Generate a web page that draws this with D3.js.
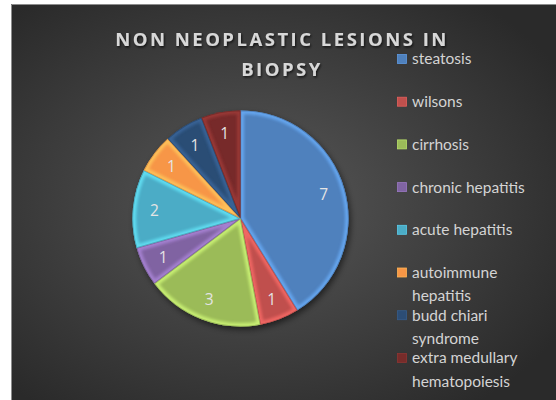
<!DOCTYPE html>
<html><head><meta charset="utf-8">
<script src="https://cdn.jsdelivr.net/npm/d3@7"></script>
<style>
html,body{margin:0;padding:0;background:#fff;}
svg{display:block;}
</style></head>
<body><svg id="chart" width="556" height="400"></svg>
<script>
const categories = ["steatosis","wilsons","cirrhosis","chronic hepatitis","acute hepatitis","autoimmune hepatitis","budd chiari syndrome","extra medullary hematopoiesis"];
const values = [7,1,3,1,2,1,1,1];
const colors = ["#4F81BD","#C0504D","#9BBB59","#8064A2","#4BACC6","#F79646","#2C4D75","#772C2A"];
const titleLines = ["NON NEOPLASTIC LESIONS IN","BIOPSY"];

const svg = d3.select("#chart");
const W = 556, H = 400;
const defs = svg.append("defs");

const bg = defs.append("radialGradient").attr("id","bg").attr("cx","45%").attr("cy","50%").attr("r","65%");
bg.append("stop").attr("offset","0%").attr("stop-color","#585858");
bg.append("stop").attr("offset","100%").attr("stop-color","#2a2a2a");

const blur = defs.append("filter").attr("id","blur").attr("x","-20%").attr("y","-20%").attr("width","140%").attr("height","140%");
blur.append("feGaussianBlur").attr("stdDeviation",1.6);

const shadow = defs.append("filter").attr("id","shadow").attr("x","-20%").attr("y","-20%").attr("width","140%").attr("height","140%");
shadow.append("feDropShadow").attr("dx",2).attr("dy",3).attr("stdDeviation",3).attr("flood-color","#000").attr("flood-opacity",0.55);

const tshadow = defs.append("filter").attr("id","tshadow");
tshadow.append("feDropShadow").attr("dx",1).attr("dy",1.5).attr("stdDeviation",1).attr("flood-color","#000").attr("flood-opacity",0.7);

// background
svg.append("rect").attr("x",11).attr("y",4).attr("width",W-11).attr("height",H-4).attr("fill","url(#bg)");
svg.append("path").attr("d",`M11.5,${H}V4.5H${W}`).attr("fill","none").attr("stroke","#8c8c8c").attr("stroke-width",1);

// title
const title = svg.append("text").attr("text-anchor","middle").attr("fill","#d8d8d8")
  .attr("font-family","'Open Sans', sans-serif").attr("font-weight","bold").attr("font-size",18.5)
  .attr("filter","url(#tshadow)");
title.selectAll("tspan").data(titleLines).join("tspan")
  .attr("x",282).attr("y",(d,i)=>46 + i*30).attr("letter-spacing",2.5).text(d=>d);

// pie
const cx = 240.5, cy = 218.5, R = 108;
const pie = d3.pie().sort(null).value(d=>d.v)(values.map((v,i)=>({v, c:colors[i], name:categories[i]})));
const arc = d3.arc().innerRadius(0).outerRadius(R);
const labelArc = d3.arc().innerRadius(R*0.8).outerRadius(R*0.8);
const g = svg.append("g").attr("transform",`translate(${cx},${cy})`);
pie.forEach((d,i)=>{
  defs.append("clipPath").attr("id","clip"+i).append("path").attr("d",arc(d))
    .attr("transform",`translate(${cx},${cy})`);
});
const slices = g.append("g").attr("filter","url(#shadow)");
slices.selectAll("path").data(pie).join("path")
  .attr("d",arc).attr("fill",d=>d.data.c);
// bevel rims
const rims = svg.append("g");
pie.forEach((d,i)=>{
  const cg = rims.append("g").attr("clip-path",`url(#clip${i})`);
  cg.append("path").attr("transform",`translate(${cx},${cy})`).attr("d",arc(d))
    .attr("fill","none").attr("stroke",d3.color(d.data.c).brighter(0.9)).attr("stroke-width",7)
    .attr("stroke-linejoin","round").attr("opacity",0.75).attr("filter","url(#blur)");
  cg.append("path").attr("transform",`translate(${cx},${cy})`).attr("d",arc(d))
    .attr("fill","none").attr("stroke",d3.color(d.data.c).darker(0.6)).attr("stroke-width",1.5)
    .attr("opacity",0.6);
});
g.selectAll("text.lbl").data(pie).join("text").attr("class","lbl")
  .attr("transform",d=>`translate(${labelArc.centroid(d)})`)
  .attr("text-anchor","middle").attr("dy","0.36em")
  .attr("font-family","'Open Sans', sans-serif").attr("font-size",15.5).attr("fill","#e4e4e4")
  .text(d=>d.data.v);

// legend
const legend = svg.append("g").attr("font-family","Lato, 'Open Sans', sans-serif").attr("font-size",15.5).attr("fill","#d4d4d4");
const maxW = 142;
categories.forEach((name,i)=>{
  const y = 59 + i*42.7;
  legend.append("rect").attr("x",397.5).attr("y",y-4.5).attr("width",9).attr("height",9)
    .attr("fill",colors[i]).attr("stroke",d3.color(colors[i]).brighter(0.5)).attr("stroke-width",0.8);
  const t = legend.append("text").attr("x",412).attr("y",y);
  const words = name.split(" ");
  let line = [], lineNo = 0;
  let ts = t.append("tspan").attr("x",412).attr("y",y).attr("dy","0.35em");
  words.forEach(w=>{
    line.push(w);
    ts.text(line.join(" "));
    if (ts.node().getComputedTextLength() > maxW && line.length>1){
      line.pop(); ts.text(line.join(" "));
      line=[w]; lineNo++;
      ts = t.append("tspan").attr("x",412).attr("y",y+lineNo*23.5).attr("dy","0.35em").text(w);
    }
  });
});
</script></body></html>
